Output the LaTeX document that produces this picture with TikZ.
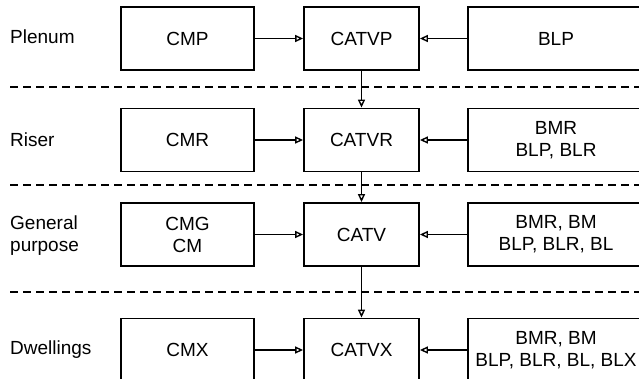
\documentclass[tikz,border=0pt]{standalone}
\usepackage{fontspec}
\setmainfont{Liberation Sans}
\usetikzlibrary{arrows.meta, positioning}

\begin{document}
\begin{tikzpicture}[
        x=1pt, y=-1pt,
        % Boxes
        box/.style={
            rectangle,
            draw=black,
            line width=1.8pt,
            inner sep=0pt,
            minimum height=63pt,
            align=center,
            font=\fontsize{19}{22}\selectfont
        },
        cableStyle/.style={box, minimum width=133pt},
        catvStyle/.style={box, minimum width=115pt},
        subStyle/.style={box, minimum width=176pt},
        % Row labels
        rowLabel/.style={anchor=west, align=left, inner sep=0pt, font=\fontsize{19}{22}\selectfont},
        % Lines
        subFlow/.style={-{Triangle[open, length=8pt, width=7pt]}, line width=1.4pt},
        sepLine/.style={dashed, dash pattern=on 8pt off 5pt, line width=1.4pt}
    ]

    % Fix the frame to the reference size
    \useasboundingbox (0,0) rectangle (639,379);
    \clip (0,0) rectangle (639,379);

    % --- ROW LABELS ---
    \node[rowLabel] (lplenum) at (10, 37)  {Plenum};
    \node[rowLabel] (lriser)  at (10, 140) {Riser};
    \node[rowLabel] (lgen)    at (10, 236) {General\\purpose};
    \node[rowLabel] (ldwell)  at (10, 350) {Dwellings};

    % --- NODES ---
    \node[cableStyle] (cmp)   at (187.5, 38.5) {CMP};
    \node[catvStyle]  (catvp) at (361.5, 38.5) {CATVP};
    \node[subStyle]   (blp)   at (556, 38.5)   {BLP};

    \node[cableStyle] (cmr)   at (187.5, 140) {CMR};
    \node[catvStyle]  (catvr) at (361.5, 140) {CATVR};
    \node[subStyle]   (bmr)   at (556, 140)   {BMR\\BLP, BLR};

    \node[cableStyle] (cmg)   at (187.5, 234.5) {CMG\\CM};
    \node[catvStyle]  (catv)  at (361.5, 234.5) {CATV};
    \node[subStyle]   (bm)    at (556, 234.5)   {BMR, BM\\BLP, BLR, BL};

    \node[cableStyle] (cmx)   at (187.5, 350) {CMX};
    \node[catvStyle]  (catvx) at (361.5, 350) {CATVX};
    \node[subStyle]   (blx)   at (556, 350)   {BMR, BM\\BLP, BLR, BL, BLX};

    % --- SEPARATORS ---
    \draw[sepLine] (10, 87)  -- (645, 87);
    \draw[sepLine] (10, 185) -- (645, 185);
    \draw[sepLine] (10, 292) -- (645, 292);

    % --- SUBSTITUTIONS ---
    \draw[subFlow] (cmp) -- (catvp);
    \draw[subFlow] (blp) -- (catvp);
    \draw[subFlow] (cmr) -- (catvr);
    \draw[subFlow] (bmr) -- (catvr);
    \draw[subFlow] (cmg) -- (catv);
    \draw[subFlow] (bm)  -- (catv);
    \draw[subFlow] (cmx) -- (catvx);
    \draw[subFlow] (blx) -- (catvx);

    % down the CATV column
    \draw[subFlow] (catvp) -- (catvr);
    \draw[subFlow] (catvr) -- (catv);
    \draw[subFlow] (catv)  -- (catvx);

\end{tikzpicture}
\end{document}
